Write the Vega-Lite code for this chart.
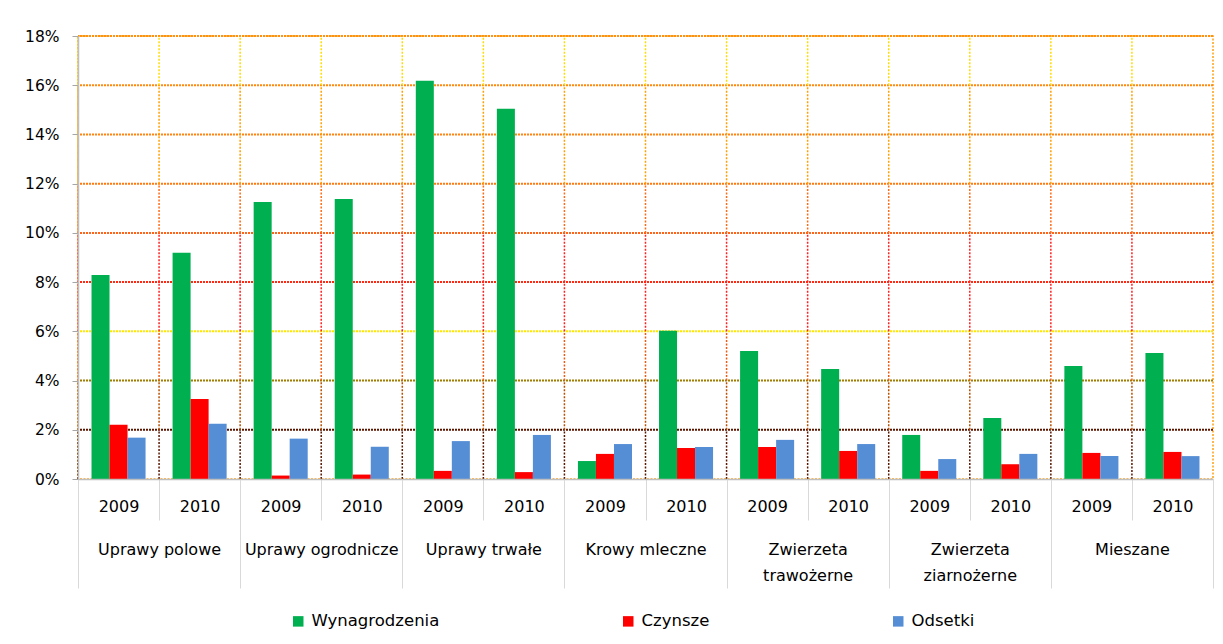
{
  "$schema": "https://vega.github.io/schema/vega-lite/v6.json",
  "width": 1135,
  "height": 443,
  "autosize": {"type": "none"},
  "padding": {"left": 78, "top": 36, "right": 10, "bottom": 165},
  "background": "#ffffff",
  "config": {
    "font": "DejaVu Sans",
    "view": {"stroke": "#ffa010", "strokeDash": [2, 1.5], "strokeWidth": 1.5}
  },
  "datasets": {
    "main": [
      {"cat": "Uprawy polowe", "year": "2009", "grp": "Uprawy polowe|2009", "series": "Wynagrodzenia", "value": 8.29},
      {"cat": "Uprawy polowe", "year": "2009", "grp": "Uprawy polowe|2009", "series": "Czynsze", "value": 2.2},
      {"cat": "Uprawy polowe", "year": "2009", "grp": "Uprawy polowe|2009", "series": "Odsetki", "value": 1.68},
      {"cat": "Uprawy polowe", "year": "2010", "grp": "Uprawy polowe|2010", "series": "Wynagrodzenia", "value": 9.19},
      {"cat": "Uprawy polowe", "year": "2010", "grp": "Uprawy polowe|2010", "series": "Czynsze", "value": 3.25},
      {"cat": "Uprawy polowe", "year": "2010", "grp": "Uprawy polowe|2010", "series": "Odsetki", "value": 2.24},
      {"cat": "Uprawy ogrodnicze", "year": "2009", "grp": "Uprawy ogrodnicze|2009", "series": "Wynagrodzenia", "value": 11.26},
      {"cat": "Uprawy ogrodnicze", "year": "2009", "grp": "Uprawy ogrodnicze|2009", "series": "Czynsze", "value": 0.14},
      {"cat": "Uprawy ogrodnicze", "year": "2009", "grp": "Uprawy ogrodnicze|2009", "series": "Odsetki", "value": 1.64},
      {"cat": "Uprawy ogrodnicze", "year": "2010", "grp": "Uprawy ogrodnicze|2010", "series": "Wynagrodzenia", "value": 11.38},
      {"cat": "Uprawy ogrodnicze", "year": "2010", "grp": "Uprawy ogrodnicze|2010", "series": "Czynsze", "value": 0.18},
      {"cat": "Uprawy ogrodnicze", "year": "2010", "grp": "Uprawy ogrodnicze|2010", "series": "Odsetki", "value": 1.31},
      {"cat": "Uprawy trwałe", "year": "2009", "grp": "Uprawy trwałe|2009", "series": "Wynagrodzenia", "value": 16.18},
      {"cat": "Uprawy trwałe", "year": "2009", "grp": "Uprawy trwałe|2009", "series": "Czynsze", "value": 0.33},
      {"cat": "Uprawy trwałe", "year": "2009", "grp": "Uprawy trwałe|2009", "series": "Odsetki", "value": 1.54},
      {"cat": "Uprawy trwałe", "year": "2010", "grp": "Uprawy trwałe|2010", "series": "Wynagrodzenia", "value": 15.04},
      {"cat": "Uprawy trwałe", "year": "2010", "grp": "Uprawy trwałe|2010", "series": "Czynsze", "value": 0.28},
      {"cat": "Uprawy trwałe", "year": "2010", "grp": "Uprawy trwałe|2010", "series": "Odsetki", "value": 1.79},
      {"cat": "Krowy mleczne", "year": "2009", "grp": "Krowy mleczne|2009", "series": "Wynagrodzenia", "value": 0.73},
      {"cat": "Krowy mleczne", "year": "2009", "grp": "Krowy mleczne|2009", "series": "Czynsze", "value": 1.02},
      {"cat": "Krowy mleczne", "year": "2009", "grp": "Krowy mleczne|2009", "series": "Odsetki", "value": 1.42},
      {"cat": "Krowy mleczne", "year": "2010", "grp": "Krowy mleczne|2010", "series": "Wynagrodzenia", "value": 6.02},
      {"cat": "Krowy mleczne", "year": "2010", "grp": "Krowy mleczne|2010", "series": "Czynsze", "value": 1.26},
      {"cat": "Krowy mleczne", "year": "2010", "grp": "Krowy mleczne|2010", "series": "Odsetki", "value": 1.3},
      {"cat": "Zwierzeta trawożerne", "year": "2009", "grp": "Zwierzeta trawożerne|2009", "series": "Wynagrodzenia", "value": 5.2},
      {"cat": "Zwierzeta trawożerne", "year": "2009", "grp": "Zwierzeta trawożerne|2009", "series": "Czynsze", "value": 1.3},
      {"cat": "Zwierzeta trawożerne", "year": "2009", "grp": "Zwierzeta trawożerne|2009", "series": "Odsetki", "value": 1.59},
      {"cat": "Zwierzeta trawożerne", "year": "2010", "grp": "Zwierzeta trawożerne|2010", "series": "Wynagrodzenia", "value": 4.47},
      {"cat": "Zwierzeta trawożerne", "year": "2010", "grp": "Zwierzeta trawożerne|2010", "series": "Czynsze", "value": 1.14},
      {"cat": "Zwierzeta trawożerne", "year": "2010", "grp": "Zwierzeta trawożerne|2010", "series": "Odsetki", "value": 1.42},
      {"cat": "Zwierzeta ziarnożerne", "year": "2009", "grp": "Zwierzeta ziarnożerne|2009", "series": "Wynagrodzenia", "value": 1.79},
      {"cat": "Zwierzeta ziarnożerne", "year": "2009", "grp": "Zwierzeta ziarnożerne|2009", "series": "Czynsze", "value": 0.33},
      {"cat": "Zwierzeta ziarnożerne", "year": "2009", "grp": "Zwierzeta ziarnożerne|2009", "series": "Odsetki", "value": 0.81},
      {"cat": "Zwierzeta ziarnożerne", "year": "2010", "grp": "Zwierzeta ziarnożerne|2010", "series": "Wynagrodzenia", "value": 2.48},
      {"cat": "Zwierzeta ziarnożerne", "year": "2010", "grp": "Zwierzeta ziarnożerne|2010", "series": "Czynsze", "value": 0.6},
      {"cat": "Zwierzeta ziarnożerne", "year": "2010", "grp": "Zwierzeta ziarnożerne|2010", "series": "Odsetki", "value": 1.02},
      {"cat": "Mieszane", "year": "2009", "grp": "Mieszane|2009", "series": "Wynagrodzenia", "value": 4.59},
      {"cat": "Mieszane", "year": "2009", "grp": "Mieszane|2009", "series": "Czynsze", "value": 1.06},
      {"cat": "Mieszane", "year": "2009", "grp": "Mieszane|2009", "series": "Odsetki", "value": 0.93},
      {"cat": "Mieszane", "year": "2010", "grp": "Mieszane|2010", "series": "Wynagrodzenia", "value": 5.12},
      {"cat": "Mieszane", "year": "2010", "grp": "Mieszane|2010", "series": "Czynsze", "value": 1.1},
      {"cat": "Mieszane", "year": "2010", "grp": "Mieszane|2010", "series": "Odsetki", "value": 0.93}
    ],
    "cats": [
      {"cat": "Uprawy polowe"},
      {"cat": "Uprawy ogrodnicze"},
      {"cat": "Uprawy trwałe"},
      {"cat": "Krowy mleczne"},
      {"cat": "Zwierzeta trawożerne"},
      {"cat": "Zwierzeta ziarnożerne"},
      {"cat": "Mieszane"}
    ],
    "hl": [
      {"v": 2}, {"v": 4}, {"v": 6}, {"v": 8}, {"v": 10}, {"v": 12}, {"v": 14}, {"v": 16}, {"v": 18}
    ]
  },
  "layer": [
    {
      "data": {"name": "main"},
      "layer": [
        {
          "data": {"name": "hl"},
          "mark": {"type": "rule", "strokeDash": [2, 1], "strokeWidth": 2},
          "encoding": {
            "y": {"field": "v", "type": "quantitative", "title": null},
            "stroke": {
              "field": "v", "type": "ordinal", "legend": null,
              "scale": {
                "domain": [2, 4, 6, 8, 10, 12, 14, 16, 18],
                "range": ["#5c1500", "#a07c00", "#ffe800", "#ff2a14", "#ff6418", "#ff7a10", "#ff8410", "#ff8a10", "#ff9010"]
              }
            }
          }
        },
        {
          "transform": [{"filter": "datum.series == 'Wynagrodzenia'"}],
          "mark": {"type": "rule", "strokeDash": [2, 1.5], "strokeWidth": 1.5, "color": "#5a1800"},
          "encoding": {"x": {"field": "grp", "type": "nominal", "sort": null, "bandPosition": 0, "title": null}, "y": {"datum": 0}, "y2": {"datum": 2}}
        },
        {
          "transform": [{"filter": "datum.series == 'Wynagrodzenia'"}],
          "mark": {"type": "rule", "strokeDash": [2, 1.5], "strokeWidth": 1.5, "color": "#b85000"},
          "encoding": {"x": {"field": "grp", "type": "nominal", "sort": null, "bandPosition": 0, "title": null}, "y": {"datum": 2}, "y2": {"datum": 4}}
        },
        {
          "transform": [{"filter": "datum.series == 'Wynagrodzenia'"}],
          "mark": {"type": "rule", "strokeDash": [2, 1.5], "strokeWidth": 1.5, "color": "#f05a10"},
          "encoding": {"x": {"field": "grp", "type": "nominal", "sort": null, "bandPosition": 0, "title": null}, "y": {"datum": 4}, "y2": {"datum": 6}}
        },
        {
          "transform": [{"filter": "datum.series == 'Wynagrodzenia'"}],
          "mark": {"type": "rule", "strokeDash": [2, 1.5], "strokeWidth": 1.5, "color": "#ff2020"},
          "encoding": {"x": {"field": "grp", "type": "nominal", "sort": null, "bandPosition": 0, "title": null}, "y": {"datum": 6}, "y2": {"datum": 10}}
        },
        {
          "transform": [{"filter": "datum.series == 'Wynagrodzenia'"}],
          "mark": {"type": "rule", "strokeDash": [2, 1.5], "strokeWidth": 1.5, "color": "#ff6a14"},
          "encoding": {"x": {"field": "grp", "type": "nominal", "sort": null, "bandPosition": 0, "title": null}, "y": {"datum": 10}, "y2": {"datum": 12}}
        },
        {
          "transform": [{"filter": "datum.series == 'Wynagrodzenia'"}],
          "mark": {"type": "rule", "strokeDash": [2, 1.5], "strokeWidth": 1.5, "color": "#ffa000"},
          "encoding": {"x": {"field": "grp", "type": "nominal", "sort": null, "bandPosition": 0, "title": null}, "y": {"datum": 12}, "y2": {"datum": 16}}
        },
        {
          "transform": [{"filter": "datum.series == 'Wynagrodzenia'"}],
          "mark": {"type": "rule", "strokeDash": [2, 1.5], "strokeWidth": 1.5, "color": "#ffdc00"},
          "encoding": {"x": {"field": "grp", "type": "nominal", "sort": null, "bandPosition": 0, "title": null}, "y": {"datum": 16}, "y2": {"datum": 18}}
        },
        {
          "mark": {"type": "bar"},
          "encoding": {
            "x": {
              "field": "grp", "type": "nominal", "sort": null, "title": null,
              "scale": {"paddingInner": 0, "paddingOuter": 0},
              "axis": {
                "orient": "bottom", "tickBand": "extent", "tickSize": 41, "tickColor": "#d9d9d9", "tickWidth": 1,
                "domainColor": "#bfbfbf", "domainWidth": 1.5, "labelExpr": "split(datum.label, '|')[1]",
                "labelPadding": -14, "labelFontSize": 16, "labelColor": "#000000", "labelAngle": 0,
                "labelAlign": "center", "grid": false, "zindex": 1
              }
            },
            "xOffset": {
              "field": "series", "type": "nominal", "sort": ["Wynagrodzenia", "Czynsze", "Odsetki"],
              "scale": {"paddingInner": 0, "paddingOuter": 0.75}
            },
            "y": {
              "field": "value", "type": "quantitative", "title": null,
              "scale": {"domain": [0, 18], "nice": false},
              "axis": {
                "values": [0, 2, 4, 6, 8, 10, 12, 14, 16, 18], "labelExpr": "datum.value + '%'",
                "ticks": true, "tickSize": 6, "tickColor": "#a6a6a6", "domainColor": "#bfbfbf", "domainWidth": 1.5,
                "labelFontSize": 15.5, "labelPadding": 13, "labelColor": "#000000", "grid": false, "zindex": 1
              }
            },
            "color": {
              "field": "series", "type": "nominal", "sort": ["Wynagrodzenia", "Czynsze", "Odsetki"],
              "scale": {"domain": ["Wynagrodzenia", "Czynsze", "Odsetki"], "range": ["#00b050", "#ff0000", "#558ed5"]},
              "legend": {
                "orient": "none", "legendX": 212, "legendY": 577, "direction": "horizontal", "title": null,
                "symbolType": "square", "symbolSize": 110, "symbolStrokeWidth": 0, "labelFontSize": 16.5,
                "labelColor": "#000000", "columnPadding": 180, "labelOffset": 5
              }
            }
          }
        }
      ]
    },
    {
      "data": {"name": "cats"},
      "mark": {"type": "rule", "opacity": 0},
      "encoding": {
        "x": {
          "field": "cat", "type": "nominal", "sort": null, "title": null,
          "scale": {"paddingInner": 0, "paddingOuter": 0},
          "axis": {
            "orient": "bottom", "tickBand": "extent", "tickSize": 109, "tickColor": "#d9d9d9", "tickWidth": 1,
            "domain": false, "labelExpr": "indexof(datum.label, 'Zwierzeta') == 0 ? split(datum.label, ' ') : datum.label",
            "labelPadding": -47, "labelLineHeight": 26, "labelFontSize": 16, "labelColor": "#000000",
            "labelAngle": 0, "labelLimit": 200, "grid": false, "zindex": 1
          }
        }
      }
    }
  ],
  "resolve": {"scale": {"x": "independent"}, "axis": {"x": "independent"}}
}
